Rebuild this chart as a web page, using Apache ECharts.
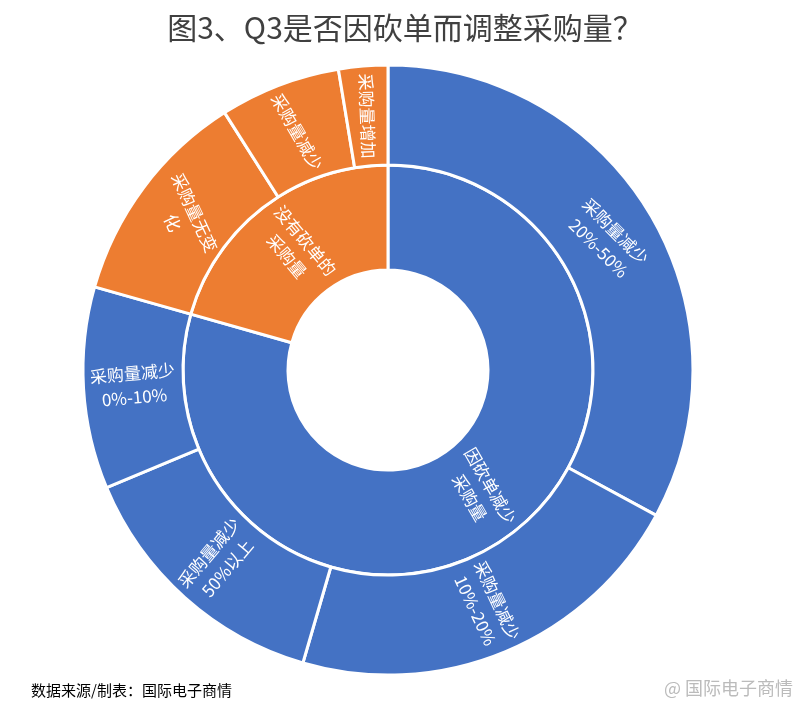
<!DOCTYPE html>
<html>
<head>
<meta charset="utf-8">
<script src="https://cdn.jsdelivr.net/npm/echarts@6/dist/echarts.min.js"></script>
<style>html,body{margin:0;padding:0;background:#fff;}#chart{width:810px;height:709px;}</style>
</head>
<body>
<div id="chart"></div>
<script>
// 内圈
var innerNames = ['因砍单减少\n采购量', '没有砍单的\n采购量'];
var innerColors = ['#4472C4', '#ED7D31'];
var innerRotate = [-60, -50];
// 外圈（按顺时针顺序）
var blueNames = ['采购量减少\n20%-50%', '采购量减少\n10%-20%', '采购量减少\n50%以上', '采购量减少\n0%-10%'];
var blueValues = [32.9, 21.6, 14.2, 10.7];
var blueRotate = [-45, -65, 50, 5];
var orangeNames = ['采购量无变\n化', '采购量减少', '采购量增加'];
var orangeValues = [11.6, 6.4, 2.6];
var orangeRotate = [-65, -60, -88];

var chart = echarts.init(document.getElementById('chart'));

function kids(names, values, rot, color) {
    var arr = [];
    for (var i = 0; i < names.length; i++) {
        arr.push({ name: names[i], value: values[i], itemStyle: { color: color }, label: { rotate: rot[i] } });
    }
    return arr;
}

var data = [
    { name: innerNames[0], itemStyle: { color: innerColors[0] }, label: { rotate: innerRotate[0] },
      children: kids(blueNames, blueValues, blueRotate, innerColors[0]) },
    { name: innerNames[1], itemStyle: { color: innerColors[1] }, label: { rotate: innerRotate[1] },
      children: kids(orangeNames, orangeValues, orangeRotate, innerColors[1]) }
];

chart.setOption({
    backgroundColor: '#fff',
    title: [{
        text: '图3、Q3是否因砍单而调整采购量？',
        left: 'center',
        top: 8,
        textStyle: { fontSize: 30, fontWeight: 'normal', color: '#404040', fontFamily: 'Noto Sans CJK SC' }
    }, {
        text: '数据来源/制表：国际电子商情',
        left: 26,
        top: 678,
        textStyle: { fontSize: 15, fontWeight: 'normal', color: '#000', fontFamily: 'Noto Sans CJK SC' }
    }, {
        text: '@ 国际电子商情',
        right: 12,
        top: 674,
        textStyle: { fontSize: 18, fontWeight: 'normal', color: '#bbbbbb', fontFamily: 'Noto Sans CJK SC' }
    }],
    series: [{
        type: 'sunburst',
        center: ['47.9%', '52.2%'],
        radius: [100, 305],
        sort: null,
        startAngle: 90,
        nodeClick: false,
        emphasis: { disabled: true },
        data: data,
        itemStyle: { borderColor: '#fff', borderWidth: 3 },
        label: { color: '#fff', fontSize: 17, fontFamily: 'Noto Sans CJK SC', lineHeight: 24, align: 'center' },
        levels: [{}, {
            r0: 100, r: 205
        }, {
            r0: 205, r: 305
        }]
    }]
});
</script>
</body>
</html>
